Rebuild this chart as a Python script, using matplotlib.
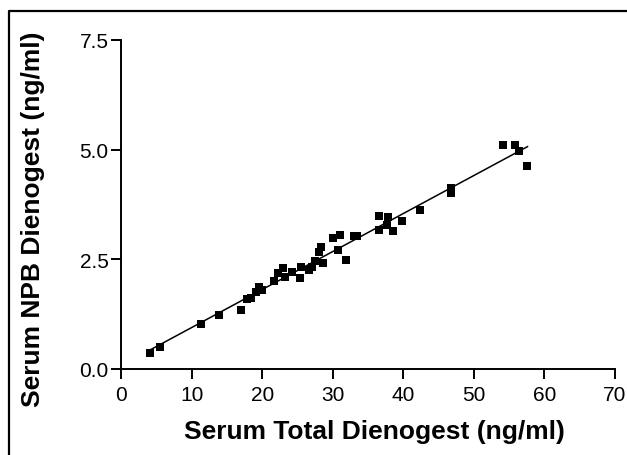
import numpy as np
import matplotlib
matplotlib.use("Agg")
import matplotlib.pyplot as plt
from matplotlib.lines import Line2D

plt.rcParams['font.family'] = ['Liberation Sans', 'DejaVu Sans']

total = [4.05, 5.57, 11.33, 13.9, 17.0, 17.8, 18.4, 19.1, 19.5, 20.0, 21.7, 22.3,
         22.9, 23.2, 24.3, 25.4, 25.5, 26.6, 27.1, 27.5, 28.0, 28.4, 28.6,
         30.0, 31.1, 30.8, 31.9, 33.0, 33.5, 36.6, 37.8, 36.6, 37.7, 38.6, 39.8,
         42.4, 46.7, 46.7, 54.2, 55.9, 56.4, 57.6]
npb = [0.35, 0.48, 1.02, 1.22, 1.34, 1.59, 1.60, 1.75, 1.85, 1.80, 2.00, 2.18,
       2.29, 2.10, 2.20, 2.07, 2.31, 2.25, 2.31, 2.46, 2.67, 2.77, 2.40,
       2.98, 3.04, 2.71, 2.48, 3.03, 3.02, 3.49, 3.45, 3.17, 3.28, 3.15, 3.37,
       3.63, 4.11, 4.01, 5.11, 5.10, 4.97, 4.63]
x_ticks = [0, 10, 20, 30, 40, 50, 60, 70]
y_ticks = [0.0, 2.5, 5.0, 7.5]
x_label = "Serum Total Dienogest (ng/ml)"
y_label = "Serum NPB Dienogest (ng/ml)"

W, H = 627, 456
fig = plt.figure(figsize=(W / 100, H / 100), dpi=100)
ax = fig.add_axes([121 / W, 1 - 369.5 / H, (615 - 121) / W, (369.5 - 41) / H])

x = np.array(total)
y = np.array(npb)
slope, intercept = np.polyfit(x, y, 1)
xs = np.array([x.min(), x.max()])
ax.plot(xs, slope * xs + intercept, color='black', lw=1.1, zorder=2)
ax.plot(x, y, 's', color='black', markersize=5.8, markeredgewidth=0, zorder=3, clip_on=False)

ax.set_xlim(0, 70)
ax.set_ylim(0, 7.5)
ax.set_xticks(x_ticks)
ax.set_yticks(y_ticks)
ax.set_xticklabels([str(t) for t in x_ticks])
ax.set_yticklabels([f"{t:.1f}" for t in y_ticks])
for s in ['top', 'right']:
    ax.spines[s].set_visible(False)
for s in ['left', 'bottom']:
    ax.spines[s].set_linewidth(1.4)
ax.tick_params(axis='both', direction='out', length=7, width=1.4, labelsize=15, colors='black')
ax.tick_params(axis='x', pad=5)
ax.tick_params(axis='y', pad=2)

fig.text(374.5 / W, 1 - 432 / H, x_label, ha='center', va='center', fontsize=19, fontweight='bold')
fig.text(33 / W, 1 - 219 / H, y_label, ha='center', va='center', rotation=90, fontsize=19, fontweight='bold')

fig.add_artist(Line2D([9 / W, 9 / W, 1.0], [0.0, 1 - 12 / H, 1 - 12 / H],
                      transform=fig.transFigure, color='black', lw=1.6))

fig.savefig("out.png", dpi=100)
